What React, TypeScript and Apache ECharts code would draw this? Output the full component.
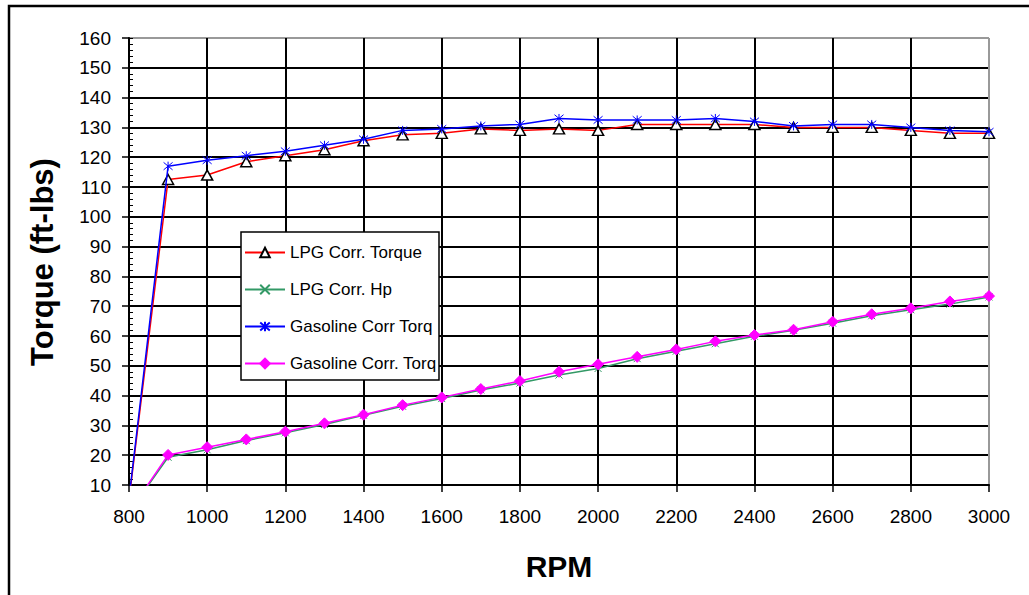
import React, { useEffect, useRef } from "react";
import * as echarts from "echarts";

const rpm = [800, 900, 1000, 1100, 1200, 1300, 1400, 1500, 1600, 1700, 1800, 1900, 2000, 2100, 2200, 2300, 2400, 2500, 2600, 2700, 2800, 2900, 3000];
const lpgTorque = [5, 112.5, 114, 118.5, 120.5, 122.5, 125.5, 127.5, 128, 129.5, 129, 129.5, 129, 131, 131, 131, 131, 130, 130, 130, 129, 128, 128];
const lpgHp = [0.8, 19.3, 21.8, 24.9, 27.5, 30.3, 33.4, 36.4, 39.0, 41.9, 44.2, 46.9, 49.1, 52.4, 54.9, 57.4, 59.9, 61.9, 64.3, 66.8, 68.8, 70.7, 73.1];
const gasTorque = [5.5, 117, 119, 120.5, 122, 124, 126, 129, 129.5, 130.5, 131, 133, 132.5, 132.5, 132.5, 133, 132, 130.5, 131, 131, 130, 129, 128.5];
const gasHp = [0.8, 20.1, 22.7, 25.3, 27.9, 30.7, 33.6, 36.8, 39.4, 42.2, 44.9, 48.0, 50.5, 53.0, 55.5, 58.2, 60.3, 62.1, 64.8, 67.3, 69.3, 71.6, 73.4];

const seriesNames = ["LPG Corr. Torque", "LPG Corr. Hp", "Gasoline Corr Torq", "Gasoline Corr. Torq"];
const xTitle = "RPM";
const yTitle = "Torque (ft-lbs)";

const FONT = "Arial, 'Liberation Sans', sans-serif";

export default function App() {
  const ref = useRef<HTMLDivElement>(null);
  useEffect(() => {
    document.body.style.margin = "0";
    const chart = echarts.init(ref.current!, null, { renderer: "svg" });
    const pair = (ys: number[]) => rpm.map((x, i) => [x, ys[i]]);
    const ySplitColors = Array.from({ length: 16 }, (_, i) => (i === 15 ? "#999" : "#000"));
    const xSplitColors = Array.from({ length: 12 }, (_, i) => (i === 11 ? "#999" : "#000"));
    chart.setOption({
      animation: false,
      backgroundColor: "#fff",
      grid: { left: 129, right: 40, top: 38, bottom: 110, containLabel: false },
      xAxis: {
        type: "value",
        min: 800,
        max: 3000,
        interval: 200,
        axisLine: { show: true, lineStyle: { color: "#000", width: 2 } },
        axisTick: { show: true, inside: false, length: 7, lineStyle: { color: "#000", width: 1.5 } },
        axisLabel: { color: "#000", fontSize: 19, fontFamily: FONT, margin: 22, formatter: (v: number) => String(v) },
        splitLine: { show: true, lineStyle: { color: xSplitColors, width: 2 } },
      },
      yAxis: [
        {
          type: "value",
          min: 10,
          max: 160,
          interval: 10,
          axisLine: { show: true, onZero: false, lineStyle: { color: "#000", width: 2 } },
          axisTick: { show: true, inside: false, length: 7, lineStyle: { color: "#000", width: 1.5 } },
          axisLabel: { color: "#000", fontSize: 19, fontFamily: FONT, margin: 18, formatter: (v: number) => String(v) },
          splitLine: { show: true, lineStyle: { color: ySplitColors, width: 2 } },
        },
        {
          type: "value",
          min: 10,
          max: 160,
          interval: 2,
          position: "left",
          axisLine: { show: false },
          axisTick: { show: true, inside: true, length: 4, lineStyle: { color: "#000", width: 1 } },
          axisLabel: { show: false },
          splitLine: { show: false },
        },
      ],
      legend: {
        orient: "vertical",
        left: 244,
        top: 244,
        padding: 0,
        itemWidth: 40,
        itemHeight: 12,
        itemGap: 20,
        z: 10,
        textStyle: { color: "#000", fontSize: 17, fontFamily: FONT, padding: [0, 0, 0, 0] },
        data: seriesNames,
      },
      graphic: [
        {
          type: "rect",
          z: 5,
          shape: { x: 9, y: 6, width: 1040, height: 620 },
          style: { fill: "none", stroke: "#000", lineWidth: 2.5 },
          silent: true,
        },
        {
          type: "rect",
          z: 5,
          shape: { x: 241, y: 232, width: 198, height: 148 },
          style: { fill: "#fff", stroke: "#000", lineWidth: 1.5 },
          silent: true,
        },
        {
          type: "text",
          z: 5,
          x: 42,
          y: 262,
          rotation: Math.PI / 2,
          style: {
            text: yTitle,
            font: `bold 31px ${FONT}`,
            fill: "#000",
            align: "center",
            verticalAlign: "middle",
          },
        },
        {
          type: "text",
          z: 5,
          x: 559,
          y: 566,
          style: {
            text: xTitle,
            font: `bold 30px ${FONT}`,
            fill: "#000",
            align: "center",
            verticalAlign: "middle",
          },
        },
      ],
      series: [
        {
          name: seriesNames[0],
          type: "line",
          data: pair(lpgTorque),
          symbol: "triangle",
          symbolSize: [11, 10],
          lineStyle: { color: "#ff0000", width: 1.5 },
          itemStyle: { color: "#ffffff", borderColor: "#000", borderWidth: 1.5 },
          z: 2,
        },
        {
          name: seriesNames[1],
          type: "line",
          data: pair(lpgHp),
          symbol: "path://M0,0L10,10M10,0L0,10",
          symbolSize: 7,
          lineStyle: { color: "#339966", width: 1.5 },
          itemStyle: { color: "#339966", borderColor: "#339966", borderWidth: 1 },
          z: 2,
        },
        {
          name: seriesNames[2],
          type: "line",
          data: pair(gasTorque),
          symbol: "path://M0,0L10,10M10,0L0,10M5,-1L5,11",
          symbolSize: 9,
          lineStyle: { color: "#0000ff", width: 1.5 },
          itemStyle: { color: "#0000ff", borderColor: "#0000ff", borderWidth: 1 },
          z: 3,
        },
        {
          name: seriesNames[3],
          type: "line",
          data: pair(gasHp),
          symbol: "diamond",
          symbolSize: 11,
          lineStyle: { color: "#ff00ff", width: 1.5 },
          itemStyle: { color: "#ff00ff", borderColor: "#ff00ff", borderWidth: 1 },
          z: 3,
        },
      ],
    });
    return () => chart.dispose();
  }, []);
  return <div ref={ref} style={{ width: 1029, height: 595 }} />;
}
